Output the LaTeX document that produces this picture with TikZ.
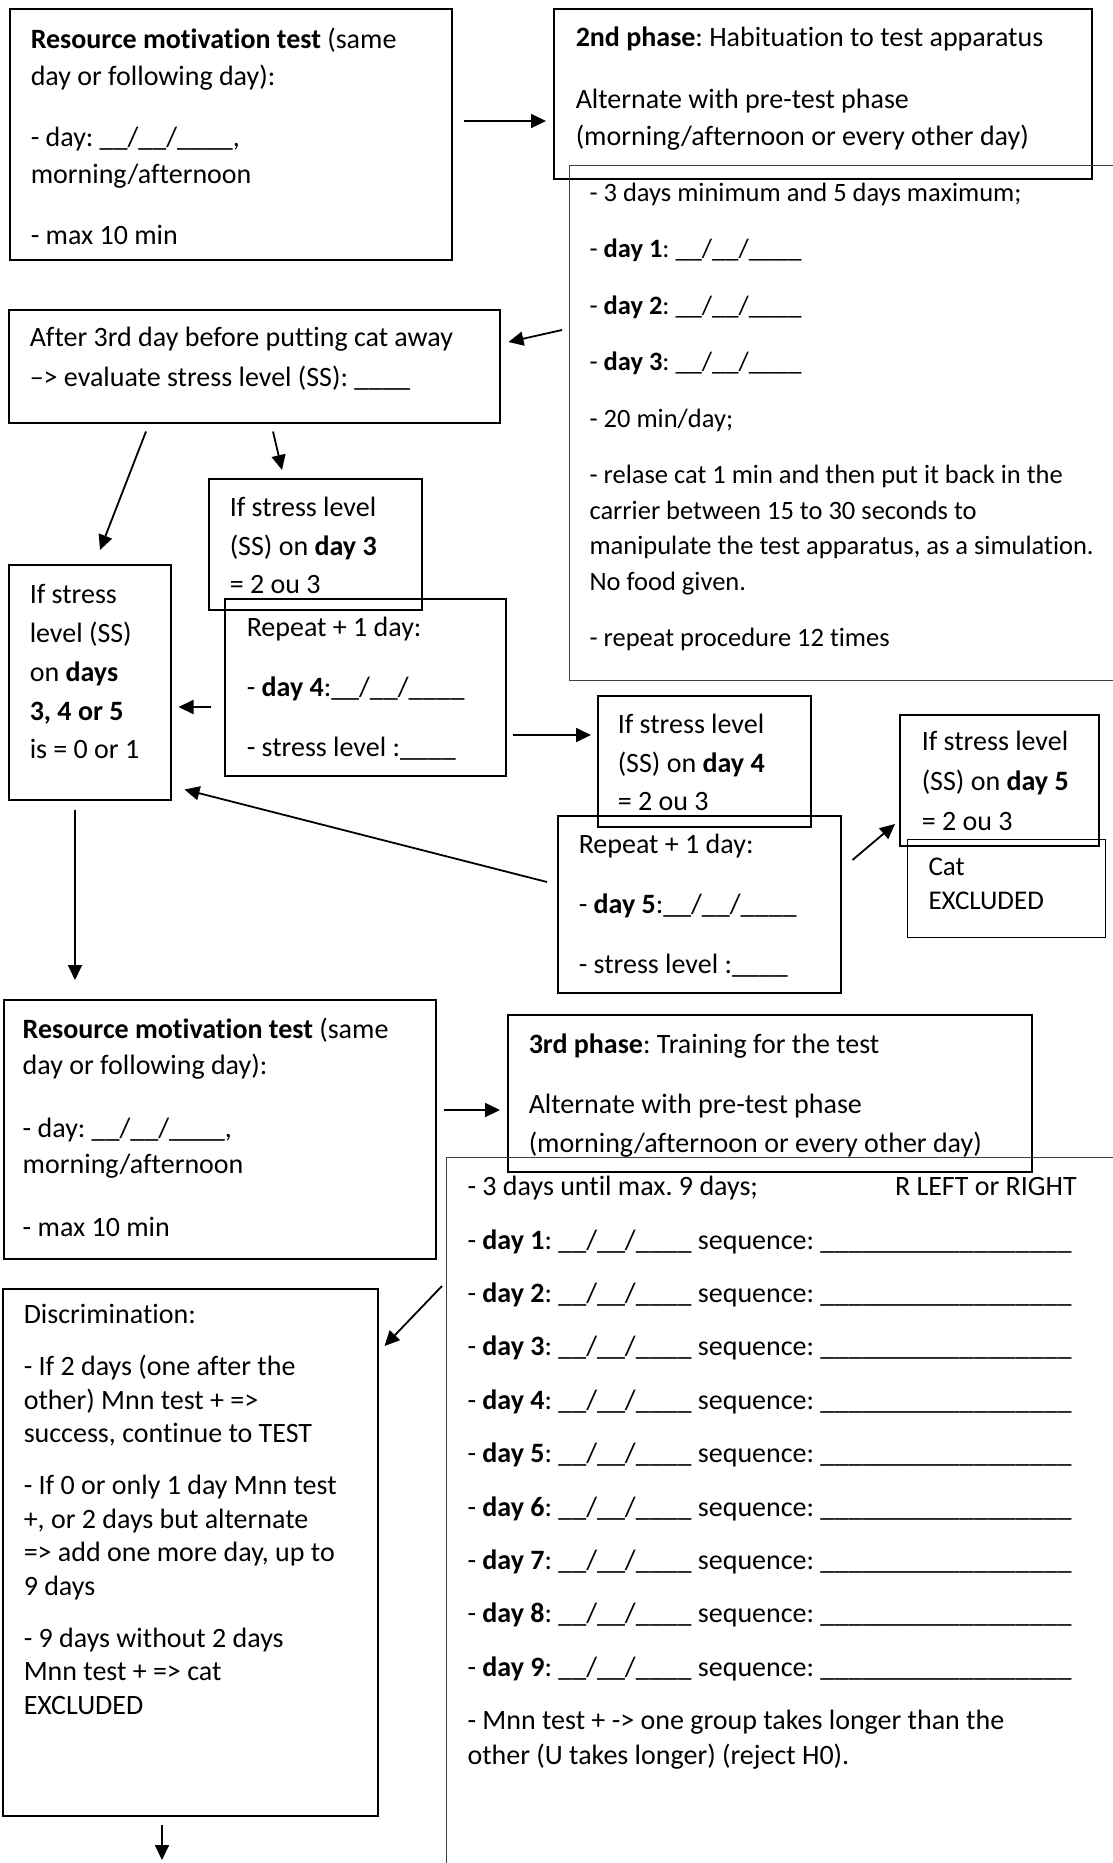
\documentclass[tikz,border=0pt]{standalone}
\usepackage{fontspec}
\setmainfont{Carlito}[Ligatures={TeX,NoCommon}]
\usetikzlibrary{arrows.meta, calc}
\frenchspacing

% box content: height, width, left gap, top gap, text
\newcommand{\boxtext}[5]{\parbox[c][#1][t]{#2}{\raggedright\leftskip=#3\relax\vspace*{#4}\strut#5}}
\newcommand{\dateline}{\_\_/\_\_/\_\_\_\_}
\newcommand{\seqline}{\_\_\_\_\_\_\_\_\_\_\_\_\_\_\_\_\_\_}

\tikzset{
  box/.style={draw, line width=1.5pt, anchor=north west, inner sep=0pt, font=\fontsize{28}{37}\selectfont},
  listbox/.style={box, line width=1.1pt, draw=black!75},
  arr/.style={-{Triangle[length=15pt,width=14pt]}, line width=1.8pt}
}

\begin{document}
\begin{tikzpicture}[x=1pt, y=-1pt]
\useasboundingbox (0,0) rectangle (1112,1863);

% first motivation test and habituation phase
\node[box] (rmtA) at (9,8) {\boxtext{251pt}{442pt}{21pt}{14pt}{%
  \textbf{Resource motivation test} (same\\
  day or following day):\\[24pt]
  - day: \dateline,\\
  morning/afternoon\\[24pt]
  - max 10 min}};
\node[box] (phaseB) at (553,8) {\boxtext{170pt}{538pt}{22pt}{12pt}{%
  \textbf{2nd phase}: Habituation to test apparatus\\[25pt]
  Alternate with pre-test phase\\
  (morning/afternoon or every other day)}};
\node[listbox, font=\fontsize{26.5}{35.5}\selectfont] (habit) at (569,165) {\boxtext{515pt}{580pt}{20pt}{11pt}{%
  - 3 days minimum and 5 days maximum;\\[21pt]
  - \textbf{day 1}: \dateline\\[21pt]
  - \textbf{day 2}: \dateline\\[21pt]
  - \textbf{day 3}: \dateline\\[21pt]
  - 20 min/day;\\[21pt]
  - relase cat 1 min and then put it back in the\\
  carrier between 15 to 30 seconds to\\
  manipulate the test apparatus, as a simulation.\\
  No food given.\\[21pt]
  - repeat procedure 12 times}};

% stress level checks
\node[box, font=\fontsize{28}{40}\selectfont] (after) at (8,309) {\boxtext{113pt}{491pt}{21pt}{9pt}{%
  After 3rd day before putting cat away\\
  \textendash> evaluate stress level (SS): \_\_\_\_}};
\node[box, font=\fontsize{28}{38.5}\selectfont] (ssThree) at (208,478) {\boxtext{131pt}{213pt}{21pt}{11pt}{%
  If stress level\\
  (SS) on \textbf{day 3}\\
  = 2 ou 3}};
\node[box, font=\fontsize{28}{38.75}\selectfont] (ssLow) at (8,564) {\boxtext{235pt}{162pt}{21pt}{12pt}{%
  If stress\\
  level (SS)\\
  on \textbf{days}\\
  \textbf{3, 4 or 5}\\
  is = 0 or 1}};
\node[box] (repFour) at (224,598) {\boxtext{177pt}{281pt}{22pt}{12pt}{%
  Repeat + 1 day:\\[23pt]
  - \textbf{day 4}:\dateline\\[23pt]
  - stress level :\_\_\_\_}};
\node[box, font=\fontsize{28}{38.5}\selectfont] (ssFour) at (597,695) {\boxtext{131pt}{213pt}{20pt}{11pt}{%
  If stress level\\
  (SS) on \textbf{day 4}\\
  = 2 ou 3}};
\node[box] (repFive) at (557,815) {\boxtext{177pt}{283pt}{21pt}{12pt}{%
  Repeat + 1 day:\\[23pt]
  - \textbf{day 5}:\dateline\\[23pt]
  - stress level :\_\_\_\_}};
\node[box, font=\fontsize{28}{40}\selectfont] (ssFive) at (899,714) {\boxtext{131pt}{199pt}{22pt}{8pt}{%
  If stress level\\
  (SS) on \textbf{day 5}\\
  = 2 ou 3}};
\node[box, line width=1.1pt, font=\fontsize{27}{34}\selectfont] (excl) at (907,839) {\boxtext{98pt}{198pt}{21pt}{12pt}{%
  Cat\\
  EXCLUDED}};

% second motivation test and training phase
\node[box, font=\fontsize{28}{36.5}\selectfont] (rmtB) at (3,999) {\boxtext{259pt}{432pt}{19pt}{13pt}{%
  \textbf{Resource motivation test} (same\\
  day or following day):\\[26pt]
  - day: \dateline,\\
  morning/afternoon\\[26pt]
  - max 10 min}};
\node[box, font=\fontsize{28}{39}\selectfont] (phaseC) at (507,1014) {\boxtext{157pt}{524pt}{21pt}{11pt}{%
  \textbf{3rd phase}: Training for the test\\[21pt]
  Alternate with pre-test phase\\
  (morning/afternoon or every other day)}};
\node[listbox, font=\fontsize{28}{34.4}\selectfont] (train) at (446,1157) {\boxtext{718pt}{674pt}{21pt}{14pt}{%
  - 3 days until max. 9 days;\hspace{137pt}R LEFT or RIGHT\\[19pt]
  - \textbf{day 1}: \dateline{} sequence: \seqline\\[19pt]
  - \textbf{day 2}: \dateline{} sequence: \seqline\\[19pt]
  - \textbf{day 3}: \dateline{} sequence: \seqline\\[19pt]
  - \textbf{day 4}: \dateline{} sequence: \seqline\\[19pt]
  - \textbf{day 5}: \dateline{} sequence: \seqline\\[19pt]
  - \textbf{day 6}: \dateline{} sequence: \seqline\\[19pt]
  - \textbf{day 7}: \dateline{} sequence: \seqline\\[19pt]
  - \textbf{day 8}: \dateline{} sequence: \seqline\\[19pt]
  - \textbf{day 9}: \dateline{} sequence: \seqline\\[19pt]
  - Mnn test + -> one group takes longer than the\\
  other (U takes longer) (reject H0).}};
\node[box, font=\fontsize{28}{33.5}\selectfont] (discr) at (2,1288) {\boxtext{527pt}{375pt}{21pt}{11.5pt}{%
  Discrimination:\\[18.5pt]
  - If 2 days (one after the\\
  other) Mnn test + =>\\
  success, continue to TEST\\[18.5pt]
  - If 0 or only 1 day Mnn test\\
  +, or 2 days but alternate\\
  => add one more day, up to\\
  9 days\\[18.5pt]
  - 9 days without 2 days\\
  Mnn test + => cat\\
  EXCLUDED}};
\coordinate (next) at (162,1860);

% arrows
\draw[arr] ($(rmtA.north east)+(11,113)$) -- ($(phaseB.north west)+(-7,113)$);
\draw[arr] ($(habit.north west)+(-7,165)$) -- ($(after.north east)+(8,33)$);
\draw[arr] ($(after.south west)+(138,8)$) -- ($(ssLow.north west)+(92,-14)$);
\draw[arr] ($(after.south west)+(265,8)$) -- ($(ssThree.north west)+(74,-8)$);
\draw[arr] ($(repFour.north west)+(-13,109)$) -- ($(ssLow.north east)+(7,143)$);
\draw[arr] ($(repFour.north east)+(6,137)$) -- ($(ssFour.north west)+(-6,40)$);
\draw[arr] ($(repFive.north west)+(-10,67)$) -- ($(ssLow.south east)+(13,-11)$);
\draw[arr] ($(repFive.north east)+(11,45)$) -- ($(ssFive.north west)+(-4,110)$);
\draw[arr] ($(ssLow.south west)+(67,9)$) -- ($(rmtB.north west)+(72,-19)$);
\draw[arr] ($(rmtB.north east)+(7,111)$) -- ($(phaseC.north west)+(-7,96)$);
\draw[arr] ($(train.north west)+(-4,129)$) -- ($(discr.north east)+(6,58)$);
\draw[arr] ($(discr.south west)+(160,8)$) -- (next);
\end{tikzpicture}
\end{document}
